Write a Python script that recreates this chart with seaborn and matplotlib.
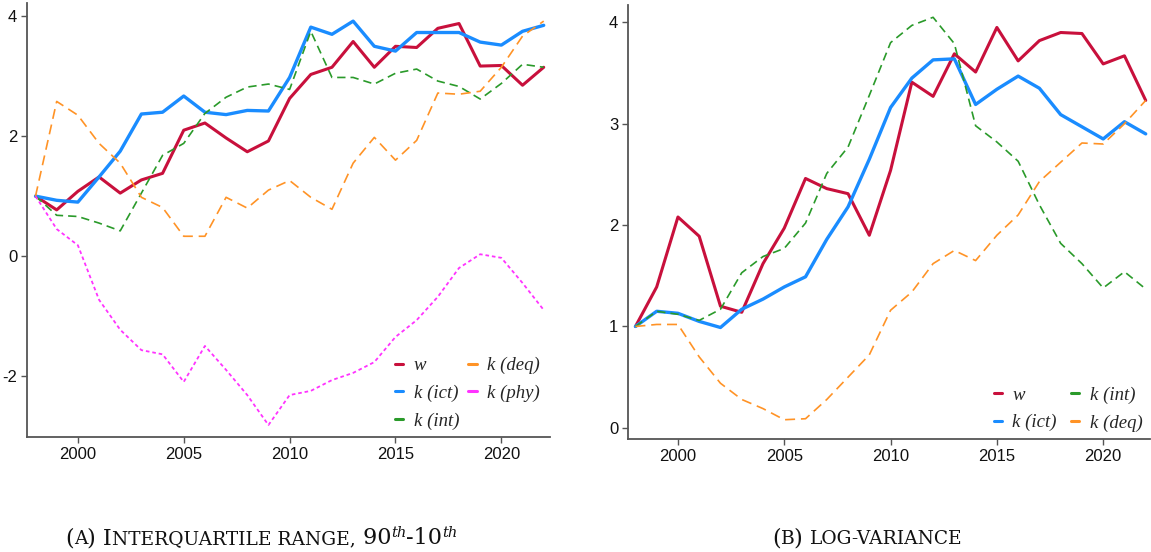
import numpy as np
import pandas as pd
import matplotlib
matplotlib.use("Agg")
import matplotlib.pyplot as plt
import seaborn as sns

years = list(range(1998, 2023))

# Panel A: interquartile range (90th-10th), normalised
iqr_w   = [1.00, 0.77, 1.08, 1.32, 1.05, 1.27, 1.38, 2.10, 2.22, 1.97, 1.74, 1.92, 2.63,
           3.03, 3.15, 3.58, 3.15, 3.50, 3.48, 3.80, 3.88, 3.17, 3.18, 2.85, 3.15]
iqr_ict = [1.00, 0.93, 0.90, 1.32, 1.75, 2.37, 2.40, 2.67, 2.40, 2.36, 2.43, 2.42, 2.98,
           3.82, 3.70, 3.92, 3.50, 3.42, 3.73, 3.73, 3.73, 3.57, 3.52, 3.75, 3.85]
iqr_int = [1.00, 0.68, 0.66, 0.55, 0.42, 1.05, 1.68, 1.88, 2.38, 2.65, 2.82, 2.87, 2.78,
           3.75, 2.98, 2.98, 2.87, 3.05, 3.12, 2.92, 2.83, 2.62, 2.88, 3.20, 3.15]
iqr_deq = [1.00, 2.58, 2.35, 1.88, 1.55, 0.98, 0.81, 0.33, 0.33, 0.98, 0.80, 1.10, 1.26,
           0.98, 0.78, 1.55, 1.98, 1.60, 1.93, 2.72, 2.70, 2.75, 3.15, 3.67, 3.92]
iqr_phy = [1.00, 0.45, 0.18, -0.73, -1.23, -1.57, -1.64, -2.10, -1.50, -1.90, -2.32, -2.82, -2.32,
           -2.25, -2.07, -1.95, -1.77, -1.35, -1.07, -0.68, -0.20, 0.03, -0.03, -0.45, -0.90]

# Panel B: log-variance, normalised
var_w   = [1.00, 1.39, 2.08, 1.89, 1.20, 1.14, 1.62, 1.97, 2.46, 2.36, 2.31, 1.90, 2.54,
           3.41, 3.27, 3.69, 3.51, 3.95, 3.62, 3.82, 3.90, 3.89, 3.59, 3.67, 3.23]
var_ict = [1.00, 1.15, 1.13, 1.05, 0.99, 1.17, 1.27, 1.39, 1.49, 1.86, 2.18, 2.65, 3.16,
           3.45, 3.63, 3.64, 3.19, 3.34, 3.47, 3.35, 3.09, 2.97, 2.85, 3.02, 2.90]
var_int = [1.00, 1.15, 1.12, 1.06, 1.17, 1.53, 1.69, 1.77, 2.02, 2.51, 2.77, 3.28, 3.80,
           3.97, 4.05, 3.79, 2.98, 2.82, 2.63, 2.20, 1.82, 1.62, 1.38, 1.54, 1.37]
var_deq = [1.00, 1.02, 1.02, 0.70, 0.44, 0.28, 0.19, 0.08, 0.09, 0.28, 0.50, 0.72, 1.16,
           1.34, 1.62, 1.75, 1.65, 1.90, 2.10, 2.43, 2.62, 2.81, 2.80, 3.00, 3.23]

labels_a = ["w", "k (ict)", "k (int)", "k (deq)", "k (phy)"]
labels_b = ["w", "k (ict)", "k (int)", "k (deq)"]

sns.set_style("ticks")
plt.rcParams["font.family"] = ["Liberation Sans", "DejaVu Sans"]
plt.rcParams["axes.unicode_minus"] = False

styles = {
    "w":       dict(color="#c8103c", lw=2.2, ls="-"),
    "k (ict)": dict(color="#1a8cff", lw=2.4, ls="-"),
    "k (int)": dict(color="#2a9a2a", lw=1.2, dashes=(5, 3)),
    "k (deq)": dict(color="#ff9326", lw=1.2, dashes=(6, 3.5)),
    "k (phy)": dict(color="#ff33ff", lw=1.3, dashes=(2, 1.6)),
}

fig = plt.figure(figsize=(11.51, 5.52), dpi=100)
axA = fig.add_axes([0.0235, 0.2083, 0.4544, 0.786])
axB = fig.add_axes([0.5456, 0.2047, 0.4535, 0.786])

def draw(ax, series, labels):
    for vals, lab in zip(series, labels):
        st = styles[lab]
        kw = dict(color=st["color"], lw=st["lw"])
        line = sns.lineplot(x=years, y=vals, ax=ax, label=lab, **kw).lines[-1]
        if "dashes" in st:
            line.set_dashes(st["dashes"])
        else:
            line.set_linestyle("-")
    ax.set_xticks([2000, 2005, 2010, 2015, 2020])
    sns.despine(ax=ax)
    for sp in ["left", "bottom"]:
        ax.spines[sp].set_color("#555555")
        ax.spines[sp].set_linewidth(1.3)
    ax.tick_params(axis="both", length=4, width=1.0, color="#555555",
                   labelsize=12, labelcolor="#111111", pad=3)
    ax.set_xlabel("")
    ax.set_ylabel("")

draw(axA, [iqr_w, iqr_ict, iqr_int, iqr_deq, iqr_phy], labels_a)
axA.set_xlim(1997.6, 2022.3)
axA.set_ylim(-3.02, 4.22)
axA.set_yticks([-2, 0, 2, 4])

draw(axB, [var_w, var_ict, var_int, var_deq], labels_b)
axB.set_xlim(1997.65, 2022.2)
axB.set_ylim(-0.11, 4.17)
axB.set_yticks([0, 1, 2, 3, 4])

legfont = dict(family="Liberation Serif", style="italic", size=13.5)
for ax, anchor, cs in [(axA, (0.995, 0.0), 0.5), (axB, (1.0, 0.0), 0.75)]:
    leg = ax.legend(loc="lower right", bbox_to_anchor=anchor, ncol=2, frameon=False,
                    handlelength=0.45, handletextpad=0.55, columnspacing=cs,
                    labelspacing=0.55, borderaxespad=0.0, prop=legfont)
    for h in leg.get_lines():
        h.set_linestyle("-")
        h.set_linewidth(2.2)

# captions in emulated small caps
fig.canvas.draw()
renderer = fig.canvas.get_renderer()

def caption(x_px, base_px, parts):
    x = x_px
    for txt, size, style, rise in parts:
        t = fig.text(x / 1151, (552 - base_px + rise) / 552, txt, fontsize=size,
                     family="DejaVu Serif", style=style, va="baseline", ha="left",
                     color="#111111")
        bb = t.get_window_extent(renderer=renderer)
        x += bb.width

big, small, sup = 16, 13.4, 10.5
caption(65, 544, [("(", big, "normal", 0), ("A", small, "normal", 0), (") I", big, "normal", 0),
                  ("NTERQUARTILE RANGE,", small, "normal", 0),
                  (" 90", big, "normal", 0), ("th", sup, "italic", 7),
                  ("-10", big, "normal", 0), ("th", sup, "italic", 7)])
caption(772, 544, [("(", big, "normal", 0), ("B", small, "normal", 0), (") ", big, "normal", 0),
                   ("LOG-VARIANCE", small, "normal", 0)])

fig.savefig("out.png", dpi=100)
